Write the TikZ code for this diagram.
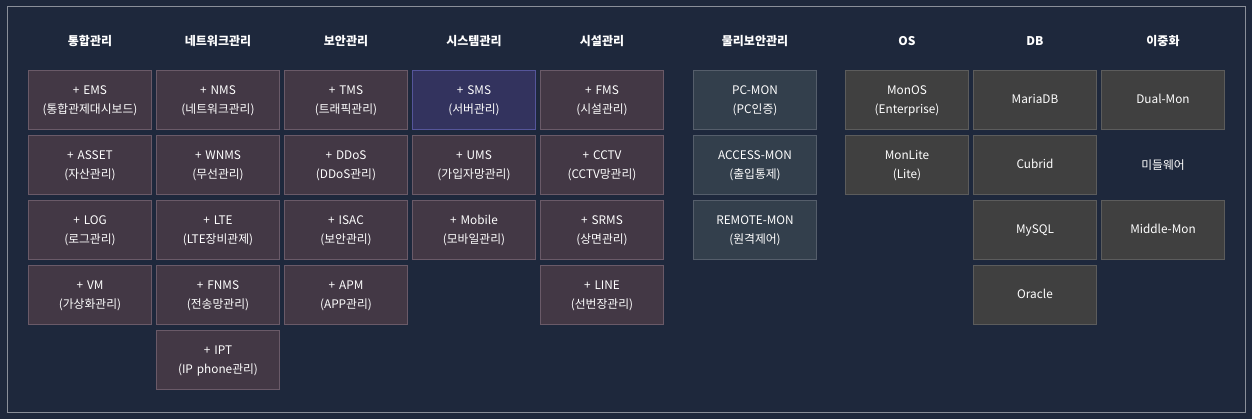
\documentclass[tikz,border=0pt]{standalone}
\usepackage{fontspec}
\setmainfont{Noto Sans CJK KR}
\usetikzlibrary{positioning}

\definecolor{bgnavy}{HTML}{1E283C}
\definecolor{framegray}{HTML}{8A8F99}
\definecolor{modfill}{HTML}{433845}
\definecolor{modline}{HTML}{6A5A68}
\definecolor{sysfill}{HTML}{33335E}
\definecolor{sysline}{HTML}{55559A}
\definecolor{physfill}{HTML}{333F4C}
\definecolor{physline}{HTML}{555E6B}
\definecolor{platfill}{HTML}{404040}
\definecolor{platline}{HTML}{5C5C5C}

\begin{document}
\begin{tikzpicture}[x=1pt,y=-1pt,
    mod/.style={draw=modline,fill=modfill,line width=1pt,inner sep=2pt,minimum width=123pt,minimum height=59pt,
        text width=119pt,align=center,text=white,font=\fontsize{11.8}{19.5}\selectfont,
        execute at begin node={\strut},execute at end node={\strut}},
    sysmod/.style={mod,draw=sysline,fill=sysfill},
    physmod/.style={mod,draw=physline,fill=physfill},
    platmod/.style={mod,draw=platline,fill=platfill},
    header/.style={text=white,font=\fontsize{12}{14}\selectfont\bfseries},
    plain/.style={text=white,font=\fontsize{11.8}{14}\selectfont}]
    % background and frame
    \fill[bgnavy] (0,0) rectangle (1252,419);
    \useasboundingbox (0,0) rectangle (1252,419);
    \draw[framegray,line width=1pt] (7,7) rectangle (1245,412);

    % headers
    \node[header] (hInteg) at (90,41) {통합관리};
    \node[header] (hNet) at (218,41) {네트워크관리};
    \node[header] (hSec) at (346,41) {보안관리};
    \node[header] (hSys) at (474,41) {시스템관리};
    \node[header] (hFac) at (602,41) {시설관리};
    \node[header] (hPhys) at (755,41) {물리보안관리};
    \node[header] (hOS) at (907,41) {OS};
    \node[header] (hDB) at (1035,41) {DB};
    \node[header] (hDual) at (1163,41) {이중화};

    % 통합관리
    \node[mod] (ems) at (90,100) {+ EMS\\(통합관제대시보드)};
    \node[mod] (asset) at (90,165) {+ ASSET\\(자산관리)};
    \node[mod] (log) at (90,230) {+ LOG\\(로그관리)};
    \node[mod] (vm) at (90,295) {+ VM\\(가상화관리)};

    % 네트워크관리
    \node[mod] (nms) at (218,100) {+ NMS\\(네트워크관리)};
    \node[mod] (wnms) at (218,165) {+ WNMS\\(무선관리)};
    \node[mod] (lte) at (218,230) {+ LTE\\(LTE장비관제)};
    \node[mod] (fnms) at (218,295) {+ FNMS\\(전송망관리)};
    \node[mod] (ipt) at (218,360) {+ IPT\\(IP phone관리)};

    % 보안관리
    \node[mod] (tms) at (346,100) {+ TMS\\(트래픽관리)};
    \node[mod] (ddos) at (346,165) {+ DDoS\\(DDoS관리)};
    \node[mod] (isac) at (346,230) {+ ISAC\\(보안관리)};
    \node[mod] (apm) at (346,295) {+ APM\\(APP관리)};

    % 시스템관리
    \node[sysmod] (sms) at (474,100) {+ SMS\\(서버관리)};
    \node[mod] (ums) at (474,165) {+ UMS\\(가입자망관리)};
    \node[mod] (mobile) at (474,230) {+ Mobile\\(모바일관리)};

    % 시설관리
    \node[mod] (fms) at (602,100) {+ FMS\\(시설관리)};
    \node[mod] (cctv) at (602,165) {+ CCTV\\(CCTV망관리)};
    \node[mod] (srms) at (602,230) {+ SRMS\\(상면관리)};
    \node[mod] (line) at (602,295) {+ LINE\\(선번장관리)};

    % 물리보안관리
    \node[physmod] (pcmon) at (755,100) {PC-MON\\(PC인증)};
    \node[physmod] (accessmon) at (755,165) {ACCESS-MON\\(출입통제)};
    \node[physmod] (remotemon) at (755,230) {REMOTE-MON\\(원격제어)};

    % OS
    \node[platmod] (monos) at (907,100) {MonOS\\(Enterprise)};
    \node[platmod] (monlite) at (907,165) {MonLite\\(Lite)};

    % DB
    \node[platmod] (mariadb) at (1035,100) {MariaDB};
    \node[platmod] (cubrid) at (1035,165) {Cubrid};
    \node[platmod] (mysql) at (1035,230) {MySQL};
    \node[platmod] (oracle) at (1035,295) {Oracle};

    % 이중화
    \node[platmod] (dualmon) at (1163,100) {Dual-Mon};
    \node[plain] (middleware) at (1163,165) {미들웨어};
    \node[platmod] (middlemon) at (1163,230) {Middle-Mon};
\end{tikzpicture}
\end{document}
